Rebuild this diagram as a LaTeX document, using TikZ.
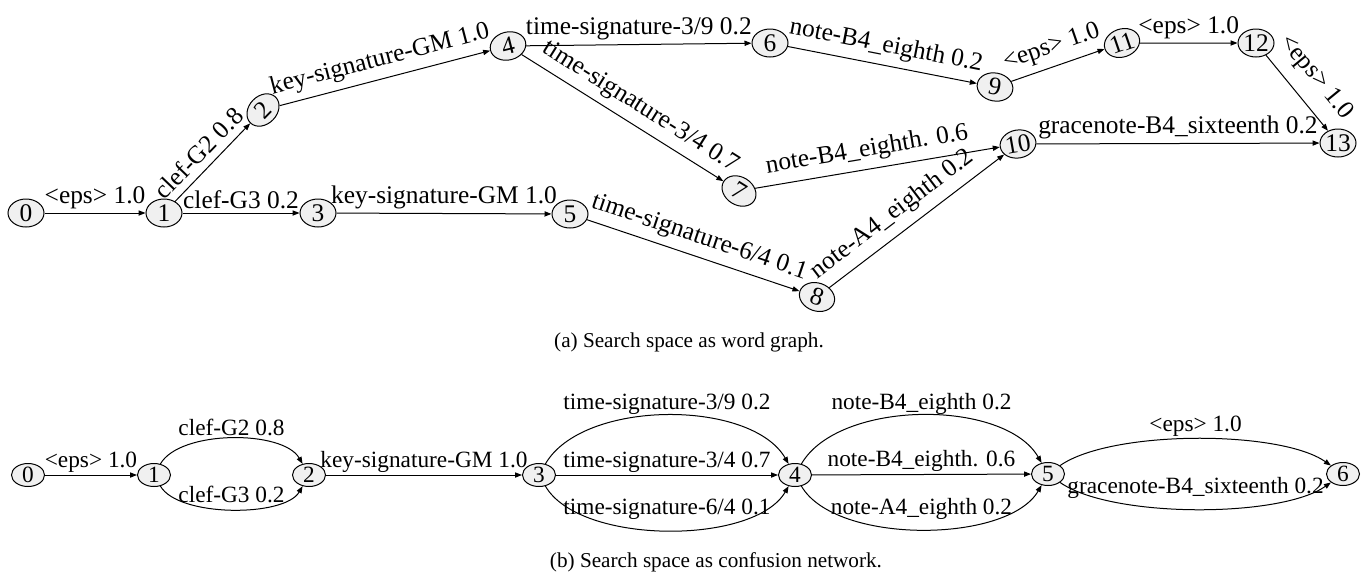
\documentclass[tikz,border=0pt]{standalone}
\usepackage{fontspec}
\setmainfont{Liberation Serif}
\usetikzlibrary{arrows.meta,shapes.geometric}

\begin{document}
\begin{tikzpicture}[
    x = 0.5pt, y = 0.5pt,
    line width = 0.5pt,
    >={Triangle[length=3.5pt,width=2.6pt]},
    wstate/.style = {ellipse, draw, fill=gray!12, inner sep=0pt,
        minimum width=18pt, minimum height=14pt,
        font=\fontsize{12.7}{14}\selectfont},
    cstate/.style = {ellipse, draw, fill=gray!12, inner sep=0pt,
        minimum width=16.5pt, minimum height=11.5pt,
        font=\fontsize{11.65}{13}\selectfont},
    wlabel/.style = {font=\fontsize{12.7}{14}\selectfont, inner sep=2pt},
    slabel/.style = {wlabel, sloped, above=1.5pt},
    clabel/.style = {font=\fontsize{11.65}{13}\selectfont, inner sep=1pt},
    caption/.style = {font=\fontsize{10.6}{12}\selectfont}
]
\useasboundingbox (0,0) rectangle (1371,-574);

% word graph
\node[wstate] (w0) at (26,-213) {0};
\node[wstate] (w1) at (164,-213) {1};
\node[wstate, rotate=46] (w2) at (263,-110) {2};
\node[wstate] (w3) at (318,-213) {3};
\node[wstate, rotate=14] (w4) at (508,-46) {4};
\node[wstate] (w5) at (570,-214) {5};
\node[wstate] (w6) at (770,-43) {6};
\node[wstate, rotate=-32] (w7) at (739,-191) {7};
\node[wstate, rotate=-19] (w8) at (817,-297) {8};
\node[wstate, rotate=-11] (w9) at (995,-87) {9};
\node[wstate, rotate=10] (w10) at (1018,-144) {10};
\node[wstate, rotate=19] (w11) at (1122,-43) {11};
\node[wstate] (w12) at (1256,-43) {12};
\node[wstate] (w13) at (1338,-143) {13};

\draw[->] (w0) -- node[wlabel, above] {<eps> 1.0} (w1);
\draw[->] (w1) -- node[slabel, pos=0.47] {clef-G2 0.8} (w2);
\draw[->] (w1) -- node[wlabel, above] {clef-G3 0.2} (w3);
\draw[->] (w2) -- node[slabel] {key-signature-GM 1.0} (w4);
\draw[->] (w3) -- node[wlabel, above] {key-signature-GM 1.0} (w5);
\draw[->] (w4) -- node[wlabel, above] {time-signature-3/9 0.2} (w6);
\draw[->] (w4) -- node[slabel, pos=0.54] {time-signature-3/4 0.7} (w7);
\draw[->] (w5) -- node[slabel] {time-signature-6/4 0.1} (w8);
\draw[->] (w6) -- node[slabel] {note-B4\_eighth 0.2} (w9);
\draw[->] (w7) -- node[slabel, pos=0.47] {note-B4\_eighth. 0.6} (w10);
\draw[->] (w8) -- node[slabel, pos=0.43, above=0.5pt] {note-A4\_eighth 0.2} (w10);
\draw[->] (w9) -- node[slabel] {<eps> 1.0} (w11);
\draw[->] (w11) -- node[wlabel, above] {<eps> 1.0} (w12);
\draw[->] (w12) -- node[slabel, above=3pt] {<eps> 1.0} (w13);
\draw[->] (w10) -- node[wlabel, above] {gracenote-B4\_sixteenth 0.2} (w13);

\node[caption] (capa) at (689,-342) {(a) Search space as word graph.};

% confusion network
\node[cstate] (c0) at (28,-475) {0};
\node[cstate] (c1) at (154,-475) {1};
\node[cstate] (c2) at (309,-475) {2};
\node[cstate] (c3) at (539,-475) {3};
\node[cstate] (c4) at (795,-475) {4};
\node[cstate] (c5) at (1048,-474) {5};
\node[cstate] (c6) at (1343,-474) {6};

\draw[->] (c0) -- node[clabel, above] {<eps> 1.0} (c1);
\draw[->] (c1) to[out=60, in=120, looseness=0.71] node[clabel, above] {clef-G2 0.8} (c2);
\draw[->] (c1) to[out=-60, in=-120, looseness=0.65] node[clabel, above=2pt] {clef-G3 0.2} (c2);
\draw[->] (c2) -- node[clabel, above] {key-signature-GM 1.0} (c3);
\draw[->] (c3) to[out=60, in=120, looseness=0.79] node[clabel, above, inner sep=0pt] {time-signature-3/9 0.2} (c4);
\draw[->] (c3) -- node[clabel, above] {time-signature-3/4 0.7} (c4);
\draw[->] (c3) to[out=-60, in=-120, looseness=0.72] node[clabel, above=4pt] {time-signature-6/4 0.1} (c4);
\draw[->] (c4) to[out=60, in=120, looseness=0.79] node[clabel, above, inner sep=0pt] {note-B4\_eighth 0.2} (c5);
\draw[->] (c4) -- node[clabel, above] {note-B4\_eighth. 0.6} (c5);
\draw[->] (c4) to[out=-60, in=-120, looseness=0.72] node[clabel, above=4pt] {note-A4\_eighth 0.2} (c5);
\draw[->] (c5) to[out=35, in=145, looseness=0.59] node[clabel, above] {<eps> 1.0} (c6);
\draw[->] (c5) to[out=-35, in=-145, looseness=0.59] node[clabel, above=4pt] {gracenote-B4\_sixteenth 0.2} (c6);

\node[caption] (capb) at (716,-562) {(b) Search space as confusion network.};
\end{tikzpicture}
\end{document}
